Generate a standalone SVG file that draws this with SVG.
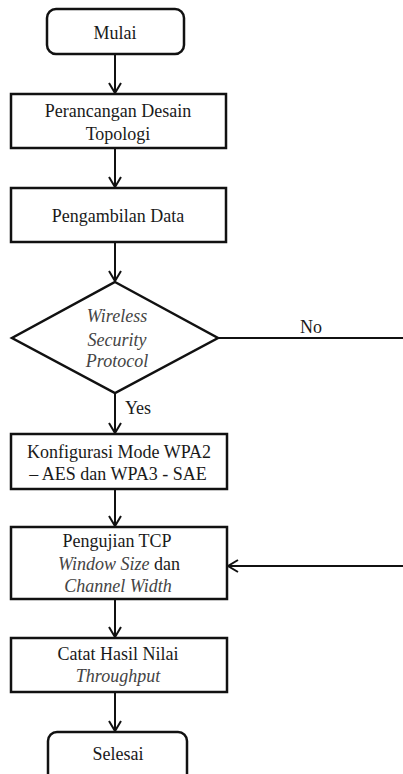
<svg xmlns="http://www.w3.org/2000/svg" width="403" height="774" viewBox="0 0 403 774">
<style>
.box{fill:#fff;stroke:#111;stroke-width:2.5}
.t{font-family:'Liberation Serif',serif;font-size:18px;fill:#1a1a1a;text-anchor:middle}
.i{font-style:italic;fill:#444}
.c{fill:none;stroke:#111;stroke-width:2}
</style>
<defs>
<marker id="ah" markerUnits="userSpaceOnUse" markerWidth="16" markerHeight="16" viewBox="-12 -8 14 16" refX="0" refY="0" orient="auto">
<path d="M-10,-6 L0,0 L-10,6" fill="none" stroke="#111" stroke-width="2"/>
</marker>
</defs>
<rect width="403" height="774" fill="#fff"/>
<g id="connectors">
<line class="c" x1="115" y1="54" x2="115" y2="93" marker-end="url(#ah)"/>
<line class="c" x1="115" y1="148" x2="115" y2="187" marker-end="url(#ah)"/>
<line class="c" x1="115" y1="242" x2="115" y2="281" marker-end="url(#ah)"/>
<line class="c" x1="115" y1="393" x2="115" y2="433" marker-end="url(#ah)"/>
<line class="c" x1="115" y1="489" x2="115" y2="526" marker-end="url(#ah)"/>
<line class="c" x1="115" y1="599" x2="115" y2="637" marker-end="url(#ah)"/>
<line class="c" x1="115" y1="692" x2="115" y2="731" marker-end="url(#ah)"/>
<line class="c" x1="218" y1="338" x2="403" y2="338"/>
<line class="c" x1="403" y1="566" x2="228" y2="566" marker-end="url(#ah)"/>
<text class="t" font-family="Liberation Serif" x="311" y="333">No</text>
<text class="t" font-family="Liberation Serif" x="138" y="414">Yes</text>
</g>
<g id="mulai">
<rect class="box" x="47" y="9" width="137" height="45" rx="9"/>
<text class="t" font-family="Liberation Serif" x="115" y="39">Mulai</text>
</g>
<g id="perancangan">
<rect class="box" x="11" y="94" width="215" height="54"/>
<text class="t" font-family="Liberation Serif" x="118" y="117">Perancangan Desain</text>
<text class="t" font-family="Liberation Serif" x="118" y="140">Topologi</text>
</g>
<g id="pengambilan">
<rect class="box" x="11" y="188" width="215" height="54"/>
<text class="t" font-family="Liberation Serif" x="118" y="222">Pengambilan Data</text>
</g>
<g id="decision">
<polygon class="box" points="115,282 218,338 115,393 12,338"/>
<text class="t i" font-family="Liberation Serif" x="117" y="322">Wireless</text>
<text class="t i" font-family="Liberation Serif" x="117" y="346">Security</text>
<text class="t i" font-family="Liberation Serif" x="117" y="367">Protocol</text>
</g>
<g id="konfigurasi">
<rect class="box" x="11" y="434" width="216" height="55"/>
<text class="t" font-family="Liberation Serif" x="119" y="458">Konfigurasi Mode WPA2</text>
<text class="t" font-family="Liberation Serif" x="118" y="480">&#8211; AES  dan WPA3  - SAE</text>
</g>
<g id="pengujian">
<rect class="box" x="11" y="527" width="216" height="72"/>
<text class="t" font-family="Liberation Serif" x="117" y="547">Pengujian TCP</text>
<text class="t" font-family="Liberation Serif" x="119" y="570"><tspan class="i">Window Size</tspan> dan</text>
<text class="t i" font-family="Liberation Serif" x="118" y="592">Channel Width</text>
</g>
<g id="catat">
<rect class="box" x="11" y="638" width="216" height="54"/>
<text class="t" font-family="Liberation Serif" x="118" y="660">Catat Hasil Nilai</text>
<text class="t i" font-family="Liberation Serif" x="118" y="682">Throughput</text>
</g>
<g id="selesai">
<rect class="box" x="48" y="732" width="139" height="60" rx="9"/>
<text class="t" font-family="Liberation Serif" x="118" y="760">Selesai</text>
</g>
</svg>
